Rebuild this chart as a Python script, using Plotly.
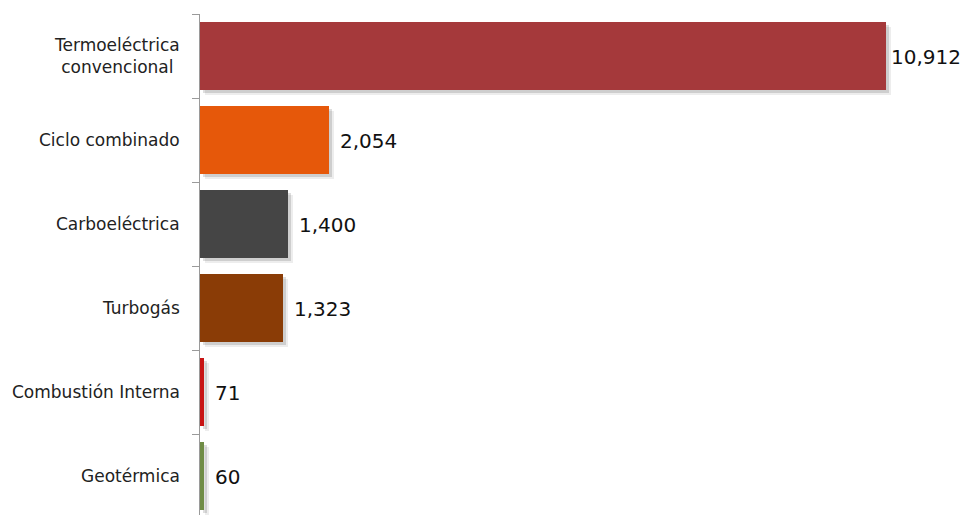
import plotly.graph_objects as go

# Capacidad por tecnología (MW)
categorias = ["Termoeléctrica<br>convencional", "Ciclo combinado", "Carboeléctrica",
              "Turbogás", "Combustión Interna", "Geotérmica"]
valores = [10912, 2054, 1400, 1323, 71, 60]
colores = ["#a5393b", "#e6580a", "#454545", "#8a3c06", "#c81414", "#6f8c45"]

W, H = 964, 515
ML, MT = 200, 14
plot_w = W - ML
plot_h = H - MT
band_px = 84
x_max = 12152
y_bottom = -0.5 + plot_h / band_px
bar_w = 0.81

ux = x_max / plot_w      # data units per pixel (x)
uy = 1.0 / band_px       # category units per pixel (y)
pos = list(range(len(categorias)))

fig = go.Figure()

# soft drop shadow behind each bar
for shift, alpha in [(5, 0.07), (3, 0.13)]:
    fig.add_trace(go.Bar(
        y=pos, x=valores, base=shift * ux, orientation="h",
        width=bar_w, offset=-bar_w / 2 + shift * uy,
        marker=dict(color=f"rgba(0,0,0,{alpha})", line=dict(width=0)),
        hoverinfo="skip", showlegend=False,
    ))

fig.add_trace(go.Bar(
    y=pos, x=valores, orientation="h", width=bar_w,
    marker=dict(color=colores, line=dict(width=0)),
    showlegend=False,
))

annotations = []
for i, (c, v) in enumerate(zip(categorias, valores)):
    annotations.append(dict(
        xref="paper", x=0, xshift=-18, xanchor="right",
        yref="y", y=i, yanchor="middle",
        text=c, align="center", showarrow=False,
        font=dict(family="DejaVu Sans", size=17, color="#222222"),
    ))
    annotations.append(dict(
        xref="x", x=v, xshift=3 if i == 0 else 9, xanchor="left",
        yref="y", y=i, yshift=-1, yanchor="middle",
        text=f"{v:,}", showarrow=False,
        font=dict(family="DejaVu Sans", size=20, color="#111111"),
    ))

fig.update_layout(
    width=W, height=H,
    margin=dict(l=ML, r=0, t=MT, b=0),
    paper_bgcolor="white", plot_bgcolor="white",
    barmode="overlay", bargap=0,
    annotations=annotations,
    xaxis=dict(range=[0, x_max], visible=False),
    yaxis=dict(
        range=[y_bottom, -0.5],
        tickvals=[p - 0.5 for p in pos] + [len(pos) - 0.5],
        ticktext=[""] * (len(pos) + 1),
        ticks="outside", ticklen=7, tickcolor="#9a9a9a", tickwidth=1,
        showline=True, linecolor="#9a9a9a", linewidth=1,
        showgrid=False, zeroline=False,
    ),
)

fig.write_html("out.html")
